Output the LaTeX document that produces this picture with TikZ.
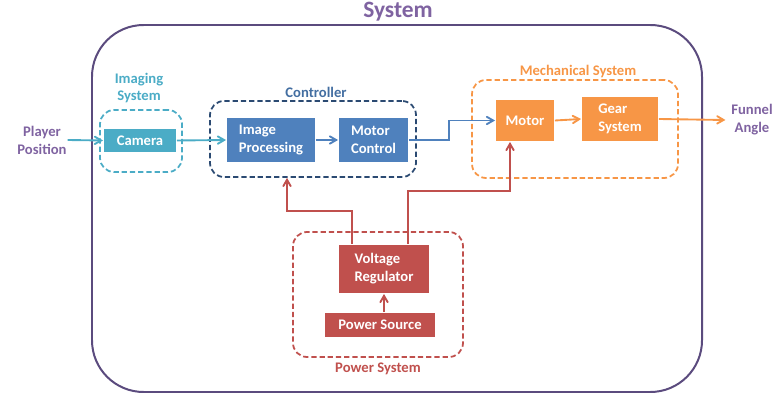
\documentclass[tikz,border=0pt]{standalone}
\usepackage{fontspec}
\setmainfont{Carlito}
\usetikzlibrary{arrows,positioning}

\definecolor{sysPurple}{HTML}{7F63A1}
\definecolor{sysBorder}{HTML}{5B4B7E}
\definecolor{camTeal}{HTML}{4BACC6}
\definecolor{ctrlBlue}{HTML}{4F81BD}
\definecolor{ctrlNavy}{HTML}{2B4A72}
\definecolor{mechOrange}{HTML}{F79646}
\definecolor{pwrRed}{HTML}{C0504D}

\begin{document}
\begin{tikzpicture}[->,>=angle 60,x=0.03cm,y=-0.03cm,line width=1.6pt,
    font=\bfseries\fontsize{12.5}{15.3}\selectfont]
   \tikzstyle{block}=[text=white,align=left,inner sep=0pt]
   \tikzstyle{group}=[rounded corners=12pt,dash pattern=on 4.5pt off 2.5pt,line width=1.5pt,inner sep=0pt]
   \useasboundingbox (0,0) rectangle (783,394);

   % outer system frame
   \draw[-,sysBorder,line width=1.7pt,rounded corners=1.55cm] (92,25) rectangle (702,392);
   \node[text=sysPurple,font=\bfseries\fontsize{20}{24}\selectfont] (title) at (398,12) {System};

   % group frames
   \node[group,draw=camTeal,minimum width=2.46cm,minimum height=1.86cm]   (imgsys) at (141,141)   {};
   \node[group,draw=ctrlNavy,minimum width=6.18cm,minimum height=2.28cm]  (ctrl)   at (313,139)   {};
   \node[group,draw=mechOrange,minimum width=6.18cm,minimum height=2.94cm] (mech) at (575,129)   {};
   \node[group,draw=pwrRed,minimum width=5.1cm,minimum height=3.75cm]     (pwr)    at (378,294.5) {};

   \node[text=camTeal,align=center]    (imgsyslbl) at (139,88)  {Imaging\\System};
   \node[text=ctrlBlue!85!black]       (ctrllbl)   at (316,92)  {Controller};
   \node[text=mechOrange]              (mechlbl)   at (578,72)  {Mechanical System};
   \node[text=pwrRed]                  (pwrlbl)    at (378,369) {Power System};

   % blocks
   \node[block,fill=camTeal,minimum width=2.16cm,minimum height=0.69cm]    (cam)   at (140,140.5) {Camera};
   \node[block,fill=ctrlBlue,minimum width=2.64cm,minimum height=1.32cm]   (ip)    at (271,140)   {Image\\Processing};
   \node[block,fill=ctrlBlue,minimum width=2.07cm,minimum height=1.32cm]   (mc)    at (373.5,140) {Motor\\Control};
   \node[block,fill=mechOrange,minimum width=1.74cm,minimum height=1.23cm] (motor) at (525,120.5) {Motor};
   \node[block,fill=mechOrange,minimum width=2.28cm,minimum height=1.32cm] (gear)  at (620,119)   {Gear\\System};
   \node[block,fill=pwrRed,minimum width=2.7cm,minimum height=1.44cm]      (vr)    at (384,269)   {Voltage\\Regulator};
   \node[block,fill=pwrRed,minimum width=3.3cm,minimum height=0.72cm]      (ps)    at (380,325)   {Power Source};

   % inputs and outputs
   \node[text=sysPurple,align=center,inner sep=0pt] (player) at (42,140) {Player\\Position};
   \node[text=sysPurple,align=center,inner sep=0pt] (funnel) at (752,120) {Funnel\\Angle};

   % signal paths
   \draw[camTeal] (player.east) -- (cam.west);
   \draw[camTeal] (cam.east) -- (ip.west);
   \draw[ctrlBlue] (ip.east) -- (mc.west);
   \draw[ctrlBlue] (mc.east) -- ++(40,0) |- (motor.west);
   \draw[mechOrange] (motor.east) -- (gear.west);
   \draw[mechOrange] (gear.east) -- ([xshift=-0.15cm]funnel.west);
   \draw[pwrRed] (ps.north -| vr.south) -- (vr.south);
   \draw[pwrRed] ([xshift=-0.96cm]vr.north) -- ++(0,-33) -| ([xshift=-0.78cm]ctrl.south);
   \draw[pwrRed] ([xshift=0.72cm]vr.north) -- ++(0,-53) -| ([xshift=-0.45cm]motor.south);
\end{tikzpicture}
\end{document}
